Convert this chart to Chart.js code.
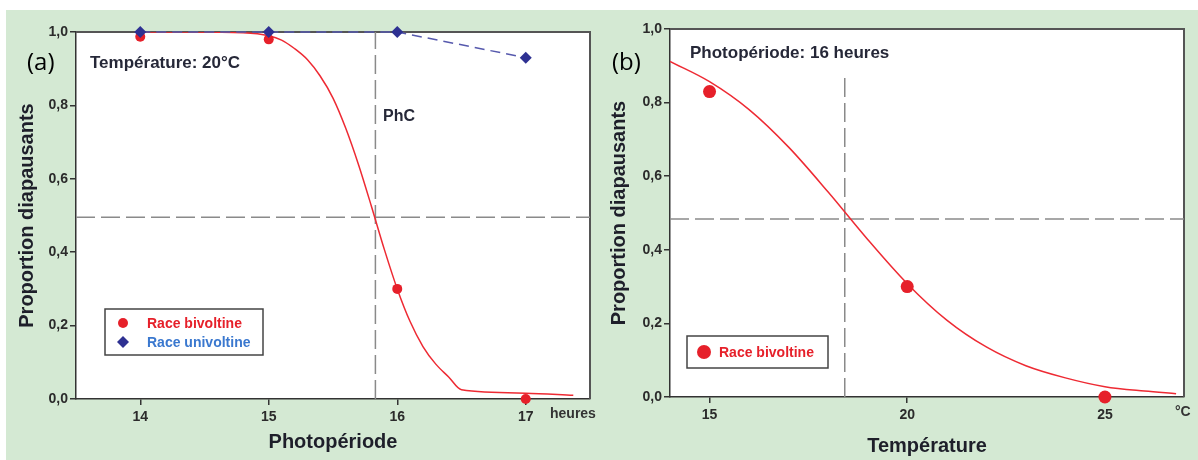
<!DOCTYPE html>
<html>
<head>
<meta charset="utf-8">
<script src="https://cdn.jsdelivr.net/npm/chart.js@4.4.0/dist/chart.umd.min.js"></script>
<style>
  html, body { margin: 0; padding: 0; background: #fff; }
  body { width: 1198px; height: 460px; position: relative; overflow: hidden; }
  #bg { position: absolute; left: 6px; top: 10px; width: 1192px; height: 450px; background: #d4e9d3; }
  #chartA { position: absolute; left: 0; top: 0; }
  #chartB { position: absolute; left: 600px; top: 0; }
</style>
</head>
<body>
<div id="bg"></div>
<canvas id="chartA" width="600" height="460"></canvas>
<canvas id="chartB" width="598" height="460"></canvas>
<script>
// (a) Photopériode, température 20 °C
const photoTicks = [14, 15, 16, 17];
const photoBivX = [14, 15, 16, 17];
const photoBivY = [0.987, 0.98, 0.30, 0.0];
const photoUniX = [14, 15, 16, 17];
const photoUniY = [1.0, 1.0, 1.0, 0.93];
const photoCurveX = [14, 14.4, 14.8, 15.0, 15.1, 15.2, 15.3, 15.4, 15.5, 15.6, 15.7, 15.8, 15.9, 16.0, 16.1, 16.2, 16.3, 16.4, 16.5, 17.0, 17.37];
const photoCurveY = [1.0, 1.0, 0.998, 0.99, 0.978, 0.955, 0.925, 0.88, 0.82, 0.737, 0.637, 0.524, 0.407, 0.30, 0.211, 0.143, 0.095, 0.06, 0.025, 0.016, 0.01];
const photoPhC = 15.83;
const photoHalf = 0.495;

// (b) Température, photopériode 16 h
const tempTicks = [15, 20, 25];
const tempBivX = [15, 20, 25];
const tempBivY = [0.83, 0.30, 0.0];
const tempCurveX = [14, 15, 16, 17, 18, 19, 20, 21, 22, 23, 24, 25, 26, 26.8];
const tempCurveY = [0.912, 0.857, 0.781, 0.679, 0.557, 0.428, 0.308, 0.209, 0.136, 0.085, 0.052, 0.028, 0.016, 0.009];
const tempCrit = 18.42;
const tempCritTop = 0.87;
const tempHalf = 0.484;

const yTicks = [0, 0.2, 0.4, 0.6, 0.8, 1.0];
const yTickLabels = ['0,0', '0,2', '0,4', '0,6', '0,8', '1,0'];

const RED = '#e6202a';
const NAVY = '#2e3192';
const GREYDASH = '#8a8a8a';
const INK = '#262838';

Chart.defaults.font.family = '"Liberation Sans", Arial, sans-serif';
Chart.defaults.animation = false;

function pts(xs, ys) {
  return xs.map((x, i) => ({ x: x, y: ys[i] }));
}

function decoPlugin(texts, legend) {
  return {
    id: 'deco',
    beforeDraw(chart) {
      const a = chart.chartArea, ctx = chart.ctx;
      ctx.save();
      ctx.fillStyle = '#fff';
      ctx.fillRect(a.left, a.top, a.right - a.left, a.bottom - a.top);
      ctx.restore();
    },
    beforeDatasetsDraw(chart) {
      const a = chart.chartArea, ctx = chart.ctx;
      ctx.save();
      ctx.strokeStyle = '#555';
      ctx.lineWidth = 2;
      ctx.beginPath();
      ctx.moveTo(a.left, a.top);
      ctx.lineTo(a.right, a.top);
      ctx.lineTo(a.right, a.bottom);
      ctx.stroke();
      ctx.restore();
    },
    afterDraw(chart) {
      const ctx = chart.ctx;
      ctx.save();
      texts.forEach(t => {
        ctx.font = t.font;
        ctx.fillStyle = t.color;
        ctx.textAlign = t.align || 'left';
        ctx.textBaseline = 'middle';
        ctx.fillText(t.text, t.x, t.y);
      });
      // legend box
      ctx.strokeStyle = '#444';
      ctx.lineWidth = 1.5;
      ctx.fillStyle = '#fff';
      ctx.fillRect(legend.x, legend.y, legend.w, legend.h);
      ctx.strokeRect(legend.x, legend.y, legend.w, legend.h);
      legend.items.forEach((it, i) => {
        const ds = chart.data.datasets[it.ds];
        const cy = legend.y + legend.rowTop + i * legend.rowH;
        ctx.fillStyle = ds.pointBackgroundColor;
        Chart.helpers.drawPoint(ctx, { pointStyle: ds.pointStyle, radius: it.r, borderWidth: 0, rotation: 0 }, legend.x + legend.markX, cy);
        ctx.font = 'bold 14px "Liberation Sans"';
        ctx.fillStyle = it.color;
        ctx.textAlign = 'left';
        ctx.textBaseline = 'middle';
        ctx.fillText(ds.label, legend.x + legend.textX, cy + 1);
      });
      ctx.restore();
    }
  };
}

function scales(xMin, xMax, xTicks, xTitle, yWidth, xHeight, yTitlePad, xTitlePad) {
  const tickFont = { size: 14, weight: 'bold' };
  return {
    x: {
      type: 'linear', min: xMin, max: xMax,
      afterBuildTicks: s => { s.ticks = xTicks.map(v => ({ value: v })); },
      afterFit: s => { s.height = xHeight; },
      ticks: { callback: v => String(v), font: tickFont, color: '#2b2b2b', padding: 4, autoSkip: false, maxRotation: 0 },
      grid: { drawOnChartArea: false, drawTicks: true, tickLength: 6, color: '#333', lineWidth: 1.5 },
      border: { color: '#333', width: 1.5 },
      title: { display: true, text: xTitle, font: { size: 20, weight: 'bold' }, color: '#1e1f2a', padding: { bottom: xTitlePad } }
    },
    y: {
      type: 'linear', min: 0, max: 1,
      afterBuildTicks: s => { s.ticks = yTicks.map(v => ({ value: v })); },
      afterFit: s => { s.width = yWidth; },
      ticks: { callback: (v, i) => yTickLabels[i], font: tickFont, color: '#2b2b2b', padding: 2 },
      grid: { drawOnChartArea: false, drawTicks: true, tickLength: 6, color: '#333', lineWidth: 1.5 },
      border: { color: '#333', width: 1.5 },
      title: { display: true, text: 'Proportion diapausants', font: { size: 20, weight: 'bold' }, color: '#1e1f2a', padding: { top: yTitlePad } }
    }
  };
}

function dashLine(data) {
  return {
    label: 'ref', data: data, showLine: true, borderColor: GREYDASH, borderWidth: 1.5,
    borderDash: [19, 6], pointRadius: 0, order: 6
  };
}

// ---- chart (a)
new Chart(document.getElementById('chartA'), {
  type: 'scatter',
  data: {
    datasets: [
      {
        label: 'Race bivoltine', data: pts(photoBivX, photoBivY), pointStyle: 'circle', pointRadius: 5,
        pointBackgroundColor: RED, pointBorderWidth: 0, clip: false, order: 1
      },
      {
        label: 'Race univoltine', data: pts(photoUniX, photoUniY), showLine: true, borderColor: '#5659ad',
        borderWidth: 1.5, borderDash: [10, 6], pointStyle: 'rectRot', pointRadius: 6,
        pointBackgroundColor: NAVY, pointBorderWidth: 0, clip: false, order: 0
      },
      {
        label: 'courbe', data: pts(photoCurveX, photoCurveY), showLine: true, borderColor: '#ee2a33',
        borderWidth: 1.5, pointRadius: 0, cubicInterpolationMode: 'monotone', order: 2
      },
      dashLine([{ x: 13.5, y: photoHalf }, { x: 17.5, y: photoHalf }]),
      dashLine([{ x: photoPhC, y: 0 }, { x: photoPhC, y: 1 }])
    ]
  },
  options: {
    responsive: false,
    layout: { padding: { top: 32, right: 10, left: 0, bottom: 0 } },
    plugins: { legend: { display: false }, tooltip: { enabled: false } },
    scales: scales(13.5, 17.5, photoTicks, 'Photopériode', 76, 61, 15, 6)
  },
  plugins: [decoPlugin([
    { text: '(a)', x: 27, y: 63, font: '24px "Open Sans"', color: '#000' },
    { text: 'Température: 20°C', x: 90, y: 63, font: 'bold 17px "Liberation Sans"', color: INK },
    { text: 'PhC', x: 383, y: 117, font: 'bold 16px "Liberation Sans"', color: INK },
    { text: 'heures', x: 550, y: 414, font: 'bold 14px "Liberation Sans"', color: '#333' }
  ], {
    x: 105, y: 309, w: 158, h: 46, rowTop: 14, rowH: 19, markX: 18, textX: 42,
    items: [{ ds: 0, r: 5, color: RED }, { ds: 1, r: 6, color: '#3a78cf' }]
  })]
});

// ---- chart (b)
new Chart(document.getElementById('chartB'), {
  type: 'scatter',
  data: {
    datasets: [
      {
        label: 'Race bivoltine', data: pts(tempBivX, tempBivY), pointStyle: 'circle', pointRadius: 6.5,
        pointBackgroundColor: RED, pointBorderWidth: 0, clip: false, order: 0
      },
      {
        label: 'courbe', data: pts(tempCurveX, tempCurveY), showLine: true, borderColor: '#ee2a33',
        borderWidth: 1.5, pointRadius: 0, cubicInterpolationMode: 'monotone', order: 2
      },
      dashLine([{ x: 14, y: tempHalf }, { x: 27, y: tempHalf }]),
      dashLine([{ x: tempCrit, y: 0 }, { x: tempCrit, y: tempCritTop }])
    ]
  },
  options: {
    responsive: false,
    layout: { padding: { top: 29, right: 14, left: 0, bottom: 0 } },
    plugins: { legend: { display: false }, tooltip: { enabled: false } },
    scales: scales(14, 27, tempTicks, 'Température', 70, 63, 7, 2)
  },
  plugins: [decoPlugin([
    { text: '(b)', x: 12, y: 63, font: '24px "Open Sans"', color: '#000' },
    { text: 'Photopériode: 16 heures', x: 90, y: 53, font: 'bold 17px "Liberation Sans"', color: INK },
    { text: '°C', x: 575, y: 412, font: 'bold 14px "Liberation Sans"', color: '#333' }
  ], {
    x: 87, y: 336, w: 141, h: 32, rowTop: 16, rowH: 0, markX: 17, textX: 32,
    items: [{ ds: 0, r: 7, color: RED }]
  })]
});
</script>
</body>
</html>
